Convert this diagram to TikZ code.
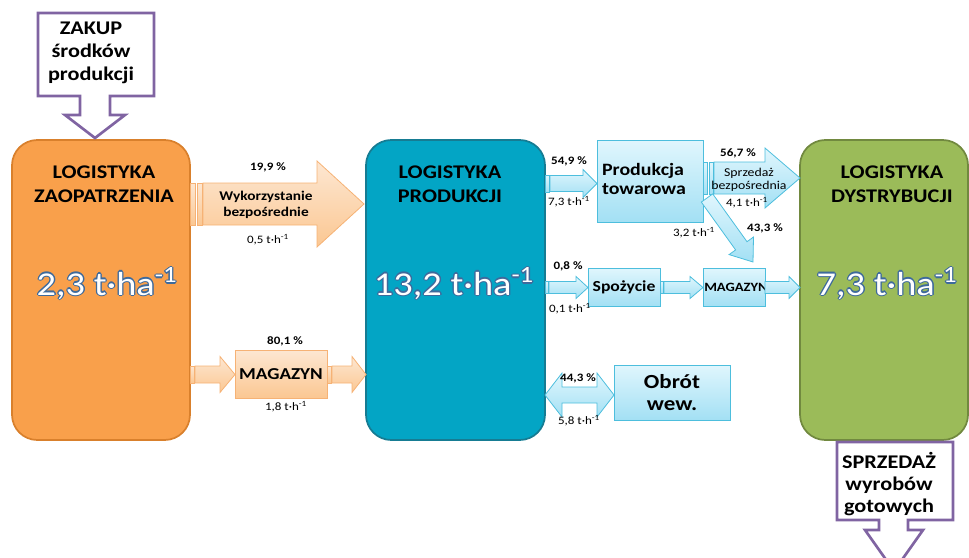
\documentclass[tikz,border=0pt]{standalone}
\usepackage{fontspec}
\setmainfont{Carlito}[FakeStretch=1.15]
\usetikzlibrary{calc}
\definecolor{purp}{HTML}{8064A2}
\definecolor{orfill}{HTML}{F9A04B}
\definecolor{orline}{HTML}{D9802C}
\definecolor{tealfill}{HTML}{03A5C5}
\definecolor{tealline}{HTML}{167C93}
\definecolor{grfill}{HTML}{9BBB59}
\definecolor{grline}{HTML}{71893F}
\definecolor{ortop}{HTML}{FDE7D2}
\definecolor{orbot}{HTML}{FBC792}
\definecolor{orline2}{HTML}{F6B275}
\definecolor{bltop}{HTML}{E0F6FD}
\definecolor{blbot}{HTML}{A3E0F4}
\definecolor{blline}{HTML}{4DBEDD}
\definecolor{numedge}{HTML}{3E6A9C}
\tikzset{
 bigbox/.style={line width=1.3pt, rounded corners=19pt, inner sep=0pt, minimum height=225pt},
 ttl/.style={font=\bfseries\fontsize{14.5}{18}\selectfont, align=center, text=black, inner sep=0pt},
 bignum/.style={font=\fontsize{25}{27}\selectfont, inner sep=0pt},
 bbox/.style={draw=blline, top color=bltop, bottom color=blbot, line width=0.7pt, inner sep=0pt},
 obox/.style={draw=orline2, top color=ortop, bottom color=orbot, line width=0.7pt, inner sep=0pt},
 barr/.style={draw=blline, top color=bltop, bottom color=blbot, line width=0.6pt},
 oarr/.style={draw=orline2, top color=ortop, bottom color=orbot, line width=0.6pt},
 pct/.style={font=\bfseries\fontsize{8.5}{10}\selectfont, inner sep=0pt},
 rate/.style={font=\fontsize{8.5}{10}\selectfont, inner sep=0pt},
 callout/.style={draw=purp, fill=white, line width=2pt, line join=miter},
 ctext/.style={font=\bfseries\fontsize{14.5}{17.5}\selectfont, align=center, inner sep=0pt},
}
\newcommand\rarrow[7][]{\path[#1] (#2,#4-#5) -- (#3-#7,#4-#5) -- (#3-#7,#4-#6) -- (#3,#4) -- (#3-#7,#4+#6) -- (#3-#7,#4+#5) -- (#2,#4+#5) -- cycle;}
\newcommand\bignum[4]{%
 \foreach \dx/\dy [count=\i] in {1.3/0,-1.3/0,0/1.3,0/-1.3,0.9/0.9,-0.9/0.9,0.9/-0.9,-0.9/-0.9}
 {\node[bignum, text=numedge, anchor=base] (#1e\i) at (#2+\dx,#3+\dy) {#4 t·ha\textsuperscript{-1}};}
 \node[bignum, text=white, anchor=base] (#1) at (#2,#3) {#4 t·ha\textsuperscript{-1}};}
\begin{document}
\begin{tikzpicture}[x=0.75pt,y=-0.75pt]
\useasboundingbox (0,0) rectangle (969,557);
% main boxes
\node[bigbox, draw=orline, fill=orfill, minimum width=133.5pt] (zao) at (101,290) {};
\node[bigbox, draw=tealline, fill=tealfill, minimum width=134.25pt] (prod) at (455.5,290) {};
\node[bigbox, draw=grline, fill=grfill, minimum width=126pt] (dys) at (884,290) {};
\node[ttl] (zaot) at (104,184) {LOGISTYKA\\ZAOPATRZENIA};
\node[ttl] (prodt) at (450,184) {LOGISTYKA\\PRODUKCJI};
\node[ttl] (dyst) at (892,184) {LOGISTYKA\\DYSTRYBUCJI};
\bignum{zaon}{107}{295}{2,3}
\bignum{prodn}{454}{295}{13,2}
\bignum{dysn}{887}{295}{7,3}
% callouts
\path[callout] (38,13) -- (154,13) -- (154,96) -- (110,96) -- (110,115) -- (125,115) -- (95,138) -- (65,115) -- (80,115) -- (80,96) -- (38,96) -- cycle;
\node[ctext] (zakt) at (91,53) {ZAKUP\\środków\\produkcji};
\path[callout] (837,442) -- (953,442) -- (953,520) -- (908,520) -- (908,530) -- (923,530) -- (894,571) -- (865,530) -- (879,530) -- (879,520) -- (837,520) -- cycle;
\node[ctext, font=\bfseries\fontsize{14.5}{16.5}\selectfont] (sprzt) at (889,484) {SPRZEDAŻ\\wyrobów\\gotowych};
% orange flows
\path[oarr] (190,183) rectangle (195,225);
\path[oarr] (197,183) rectangle (202,225);
\rarrow[oarr]{203}{364}{204}{21}{43}{47}
\node[font=\bfseries\fontsize{10}{11.5}\selectfont, align=center, inner sep=0pt] (wyk) at (266,205) {Wykorzystanie\\bezpośrednie};
\path[oarr] (190,366) rectangle (194,383);
\rarrow[oarr]{195}{235}{374.5}{8.5}{18}{15}
\node[obox, minimum width=69pt, minimum height=36pt, font=\bfseries\fontsize{12.5}{14}\selectfont] (mag1) at (281,374) {MAGAZYN};
\path[oarr] (327,366) rectangle (331,383);
\rarrow[oarr]{332}{366}{374.5}{8.5}{18}{14}
% blue flows
\path[barr] (545,175) rectangle (549,192);
\rarrow[barr]{550}{597}{183.5}{8}{14}{14}
\node[bbox, minimum width=79.5pt, minimum height=61.5pt] (tow) at (650,181) {};
\node[font=\bfseries\fontsize{13}{14}\selectfont, align=left, inner sep=0pt] (towt) at (644,179) {Produkcja\\towarowa};
\path[barr] (703,162) rectangle (707,194);
\path[barr] (709,162) rectangle (713,194);
\rarrow[barr]{714}{800}{178}{16}{30}{35}
\node[font=\fontsize{9}{10}\selectfont, align=center, inner sep=0pt] (sprt) at (749,180) {Sprzedaż\\bezpośrednia};
\path[barr] (701.3,202.1) -- (712.7,193.9) -- (747.0,241.7) -- (753.5,237.0) -- (753,262) -- (729.1,254.6) -- (735.6,249.9) -- cycle;
\path[barr] (545,281.5) rectangle (548,293.5);
\rarrow[barr]{549}{588}{287.5}{6}{11}{12}
\node[bbox, minimum width=54pt, minimum height=28.5pt, font=\bfseries\fontsize{11.5}{12}\selectfont] (spoz) at (624,287) {Spożycie};
\path[barr] (660,281.5) rectangle (663,293.5);
\rarrow[barr]{664}{703}{287.5}{6}{11}{13}
\node[bbox, minimum width=46.5pt, minimum height=28.5pt] (mag2) at (734,287) {};
\node[font=\bfseries\fontsize{9.5}{10}\selectfont, inner sep=0pt] (mag2t) at (736,287) {MAGAZYN};
\rarrow[barr]{765}{800}{287.5}{6}{11}{11}
\path[barr] (545,395) -- (562,373) -- (562,387) -- (597,387) -- (597,373) -- (614,395) -- (597,417) -- (597,403) -- (562,403) -- (562,417) -- cycle;
\node[bbox, minimum width=87pt, minimum height=41.25pt, font=\bfseries\fontsize{15}{16}\selectfont, align=center] (obr) at (672,392.5) {Obrót\\wew.};
% labels
\node[pct] (p1) at (268,167) {19,9 \%};
\node[rate] (r1) at (268,240) {0,5 t·h\textsuperscript{-1}};
\node[pct] (p2) at (285,341) {80,1 \%};
\node[rate] (r2) at (286,407) {1,8 t·h\textsuperscript{-1}};
\node[pct] (p3) at (569,161) {54,9 \%};
\node[rate] (r3) at (569,202) {7,3 t·h\textsuperscript{-1}};
\node[pct] (p4) at (738,153) {56,7 \%};
\node[rate] (r4) at (747,203) {4,1 t·h\textsuperscript{-1}};
\node[rate] (r5) at (694,233) {3,2 t·h\textsuperscript{-1}};
\node[pct] (p5) at (765,228) {43,3 \%};
\node[pct] (p6) at (568,266) {0,8 \%};
\node[rate] (r6) at (570,309) {0,1 t·h\textsuperscript{-1}};
\node[pct] (p7) at (578,378) {44,3 \%};
\node[rate] (r7) at (579,421) {5,8 t·h\textsuperscript{-1}};
\end{tikzpicture}
\end{document}
